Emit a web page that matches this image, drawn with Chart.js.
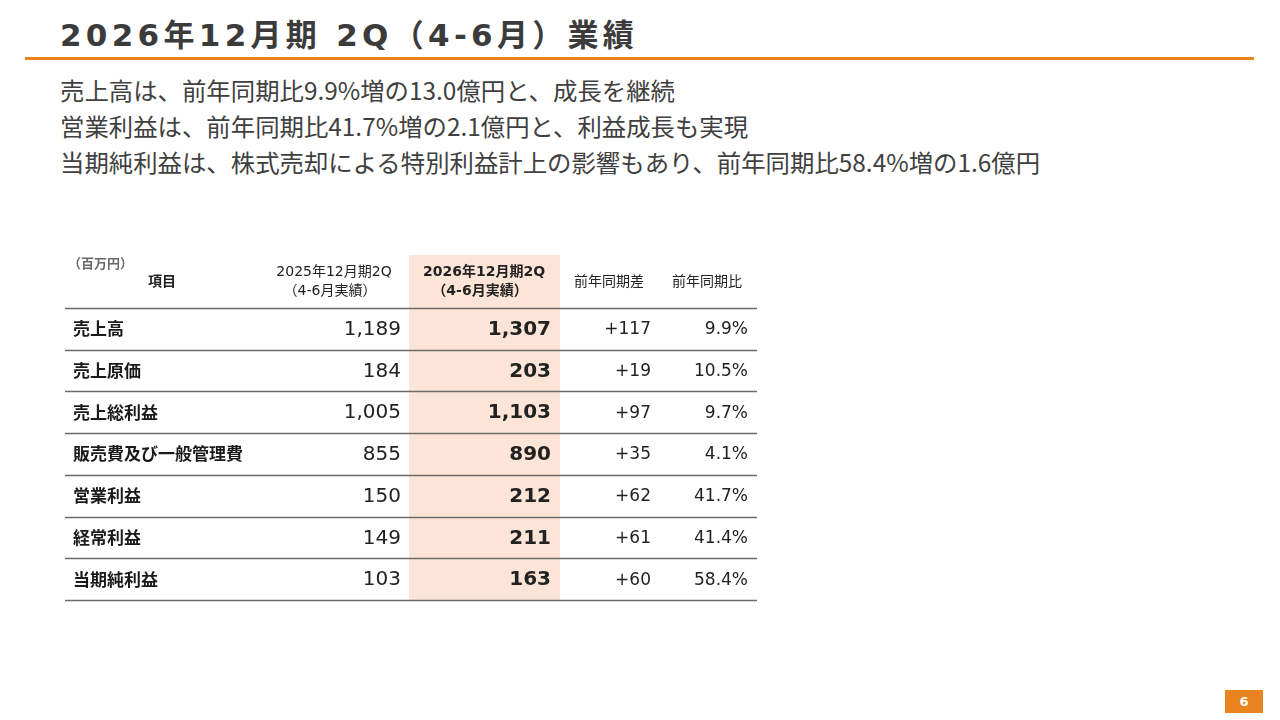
<!DOCTYPE html>
<html><head><meta charset="utf-8">
<script src="https://cdn.jsdelivr.net/npm/chart.js@4.4.1/dist/chart.umd.min.js"></script>
<style>
html,body{margin:0;padding:0;background:#fff;}
#page{position:relative;width:1280px;height:720px;overflow:hidden;background:#fff;}
#title{position:absolute;left:60px;top:10px;font-family:"DejaVu Sans","Noto Sans CJK JP",sans-serif;font-weight:bold;font-size:31px;letter-spacing:4.3px;color:#3b3b3b;white-space:nowrap;}
#rule{position:absolute;left:25px;top:57px;width:1229px;height:3px;background:#e8831f;}
#body{position:absolute;left:60px;top:72px;font-family:"Noto Sans CJK JP",sans-serif;font-size:24.4px;line-height:36px;color:#404040;white-space:nowrap;}
#wrap{position:absolute;left:0;top:0;width:1280px;height:720px;}
#pno{position:absolute;left:1225px;top:690px;width:38px;height:23px;background:#e8831f;color:#fff;font-family:"DejaVu Sans",sans-serif;font-weight:bold;font-size:13px;line-height:23px;text-align:center;}
</style></head><body>
<div id="page">
<div id="title">2026年12月期 2Q（4-6月）業績</div>
<div id="rule"></div>
<div id="body">売上高は、前年同期比9.9%増の13.0億円と、成長を継続<br>営業利益は、前年同期比41.7%増の2.1億円と、利益成長も実現<br>当期純利益は、株式売却による特別利益計上の影響もあり、前年同期比58.4%増の1.6億円</div>
<div id="wrap"><canvas id="c"></canvas></div>
<div id="pno">6</div>
</div>
<script>
const items = ["売上高","売上原価","売上総利益","販売費及び一般管理費","営業利益","経常利益","当期純利益"];
const prevYear = ["1,189","184","1,005","855","150","149","103"];
const currYear = ["1,307","203","1,103","890","212","211","163"];
const diffYoY = ["+117","+19","+97","+35","+62","+61","+60"];
const ratioYoY = ["9.9%","10.5%","9.7%","4.1%","41.7%","41.4%","58.4%"];
const headers = ["項目","2025年12月期2Q\n（4-6月実績）","2026年12月期2Q\n（4-6月実績）","前年同期差","前年同期比"];
const unitLabel = "（百万円）";

const JP = '"Noto Sans CJK JP", sans-serif';
const NUM = '"DejaVu Sans", "Noto Sans CJK JP", sans-serif';

const tablePlugin = {
  id: 'table',
  beforeDraw(chart) {
    const ctx = chart.ctx, ca = chart.chartArea;
    const L = ca.left;
    ctx.save();
    ctx.fillStyle = '#fce4d6';
    ctx.fillRect(L + 344, ca.top - 53, 151, ca.bottom - ca.top + 53);
    ctx.restore();
  },
  afterDraw(chart) {
    const ctx = chart.ctx, ca = chart.chartArea, y = chart.scales.y;
    const L = ca.left, R = ca.right;
    const n = items.length;
    const step = (y.getPixelForValue(1) - y.getPixelForValue(0));
    ctx.save();
    ctx.strokeStyle = '#6b6b6b';
    ctx.lineWidth = 1.3;
    for (let i = 0; i <= n; i++) {
      const py = Math.round(y.getPixelForValue(i) - step / 2) + 0.5;
      ctx.beginPath(); ctx.moveTo(L, py); ctx.lineTo(R, py); ctx.stroke();
    }
    ctx.textBaseline = 'middle';
    const hy = ca.top - 27;
    ctx.font = 'bold 13px ' + JP; ctx.fillStyle = '#6a6a6a'; ctx.textAlign = 'left';
    ctx.fillText(unitLabel, L + 3, ca.top - 45);
    ctx.fillStyle = '#222';
    ctx.font = 'bold 14px ' + JP; ctx.textAlign = 'center';
    ctx.fillText(headers[0], L + 97, hy);
    const h1 = headers[1].split('\n');
    ctx.font = '14px ' + NUM;
    ctx.fillText(h1[0], L + 269, hy - 9); ctx.fillText(h1[1], L + 265, hy + 10);
    const h2 = headers[2].split('\n');
    ctx.font = 'bold 14px ' + NUM;
    ctx.fillText(h2[0], L + 419, hy - 9); ctx.fillText(h2[1], L + 415, hy + 10);
    ctx.font = '14px ' + JP;
    ctx.fillText(headers[3], L + 544, hy);
    ctx.fillText(headers[4], L + 642, hy);
    for (let i = 0; i < n; i++) {
      const py = y.getPixelForValue(i);
      ctx.fillStyle = '#1a1a1a';
      ctx.textAlign = 'left';
      ctx.font = 'bold 17px ' + JP;
      ctx.fillText(items[i], L + 8, py);
      ctx.textAlign = 'right';
      ctx.fillStyle = '#222';
      ctx.font = '20px ' + NUM;
      ctx.fillText(prevYear[i], L + 336, py + 1);
      ctx.font = 'bold 20px ' + NUM;
      ctx.fillText(currYear[i], L + 486, py + 1);
      ctx.font = '17px ' + NUM;
      ctx.fillText(diffYoY[i], L + 586, py + 1);
      ctx.fillText(ratioYoY[i], L + 683, py + 1);
    }
    ctx.restore();
  }
};

new Chart(document.getElementById('c'), {
  type: 'bar',
  data: { labels: items, datasets: [] },
  options: {
    responsive: true, maintainAspectRatio: false, animation: false,
    layout: { padding: { left: 65, top: 308, right: 523, bottom: 120 } },
    plugins: { legend: { display: false }, tooltip: { enabled: false } },
    scales: {
      x: { display: false, type: 'linear', min: 0, max: 1 },
      y: { display: false, type: 'category', labels: items, offset: true }
    }
  },
  plugins: [tablePlugin]
});
</script>
</body></html>
